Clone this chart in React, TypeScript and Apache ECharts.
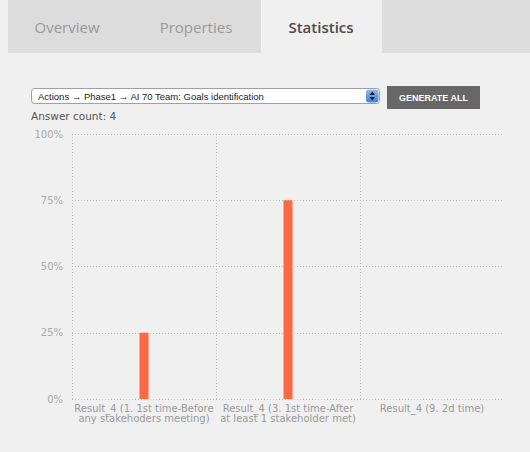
import React, { useEffect, useRef } from "react";
import * as echarts from "echarts";

const tabs = ["Overview", "Properties", "Statistics"];
const selectText = "Actions \u2192 Phase1 \u2192 AI 70 Team: Goals identification";
const buttonText = "GENERATE ALL";
const answerText = "Answer count: 4";
const categories = [
  "Result_4 (1. 1st time-Before\nany stakehoders meeting)",
  "Result_4 (3. 1st time-After\nat least 1 stakeholder met)",
  "Result_4 (9. 2d time)",
];
const values = [25, 75, 0];
const yMin = 0;
const yMax = 100;
const yInterval = 25;

export default function App() {
  const ref = useRef<HTMLDivElement>(null);
  useEffect(() => {
    if (!ref.current) return;
    const chart = echarts.init(ref.current, null, { renderer: "svg" });
    const tabCenters = [67, 196, 321];
    const dotted = { type: [1, 2], color: "#bdbdbd", width: 1 };
    chart.setOption({
      animation: false,
      backgroundColor: "#f0f0f0",
      grid: { left: 72, right: 26, top: 134, bottom: 53, containLabel: false },
      xAxis: {
        type: "category",
        data: categories,
        boundaryGap: true,
        axisLine: { show: false },
        axisTick: { show: false },
        splitLine: {
          show: true,
          showMaxLine: false,
          lineStyle: dotted,
        },
        axisLabel: {
          interval: 0,
          margin: 4,
          color: "#9a9a9a",
          fontFamily: "DejaVu Sans",
          fontSize: 10,
          lineHeight: 10.5,
          align: "center",
        },
      },
      yAxis: {
        type: "value",
        min: yMin,
        max: yMax,
        interval: yInterval,
        axisLine: { show: false },
        axisTick: { show: false },
        splitLine: { lineStyle: dotted },
        axisLabel: {
          formatter: "{value}%",
          margin: 9,
          color: "#aaa",
          fontFamily: "DejaVu Sans",
          fontSize: 10,
        },
      },
      series: [
        {
          type: "bar",
          data: values,
          barWidth: 9,
          itemStyle: { color: "#fe6843" },
        },
      ],
      graphic: [
        { type: "rect", shape: { x: 8, y: 0, width: 522, height: 53 }, style: { fill: "#dcdcdc" }, silent: true },
        { type: "rect", shape: { x: 261, y: 0, width: 121, height: 53 }, style: { fill: "#f0f0f0" }, silent: true },
        ...tabs.map((t, i) => ({
          type: "text",
          x: tabCenters[i],
          y: 27,
          style: {
            text: t,
            fill: i === 2 ? "#4a4a4a" : "#999",
            font: (i === 2 ? "600 " : "") + "15px 'Open Sans', sans-serif",
            textAlign: "center",
            textVerticalAlign: "middle",
          },
        })),
        {
          type: "rect",
          shape: { x: 31.5, y: 88.5, width: 348, height: 15, r: 3 },
          style: { fill: "#ffffff", stroke: "#a0a0a0", lineWidth: 1 },
        },
        {
          type: "text",
          x: 38,
          y: 96,
          style: {
            text: selectText,
            fill: "#222",
            font: "9.5px 'Liberation Sans', sans-serif",
            textAlign: "left",
            textVerticalAlign: "middle",
          },
        },
        {
          type: "rect",
          shape: { x: 366, y: 89.5, width: 12.5, height: 13, r: 3 },
          style: {
            fill: new echarts.graphic.LinearGradient(0, 0, 0, 1, [
              { offset: 0, color: "#8fbcf0" },
              { offset: 1, color: "#3a83db" },
            ]),
          },
        },
        { type: "polygon", shape: { points: [[369.5, 95], [372.25, 91.5], [375, 95]] }, style: { fill: "#1a1a1a" } },
        { type: "polygon", shape: { points: [[369.5, 97], [372.25, 100.5], [375, 97]] }, style: { fill: "#1a1a1a" } },
        { type: "rect", shape: { x: 387, y: 86, width: 93, height: 23 }, style: { fill: "#676767" } },
        {
          type: "text",
          x: 433.5,
          y: 97.5,
          style: {
            text: buttonText,
            fill: "#ffffff",
            font: "bold 9px 'Liberation Sans', sans-serif",
            textAlign: "center",
            textVerticalAlign: "middle",
          },
        },
        {
          type: "text",
          x: 31,
          y: 116,
          style: {
            text: answerText,
            fill: "#555",
            font: "10.5px 'DejaVu Sans', sans-serif",
            textAlign: "left",
            textVerticalAlign: "middle",
          },
        },
      ],
    });
    return () => chart.dispose();
  }, []);
  return (
    <div
      ref={ref}
      style={{ position: "fixed", left: 0, top: 0, width: 530, height: 452 }}
    />
  );
}
